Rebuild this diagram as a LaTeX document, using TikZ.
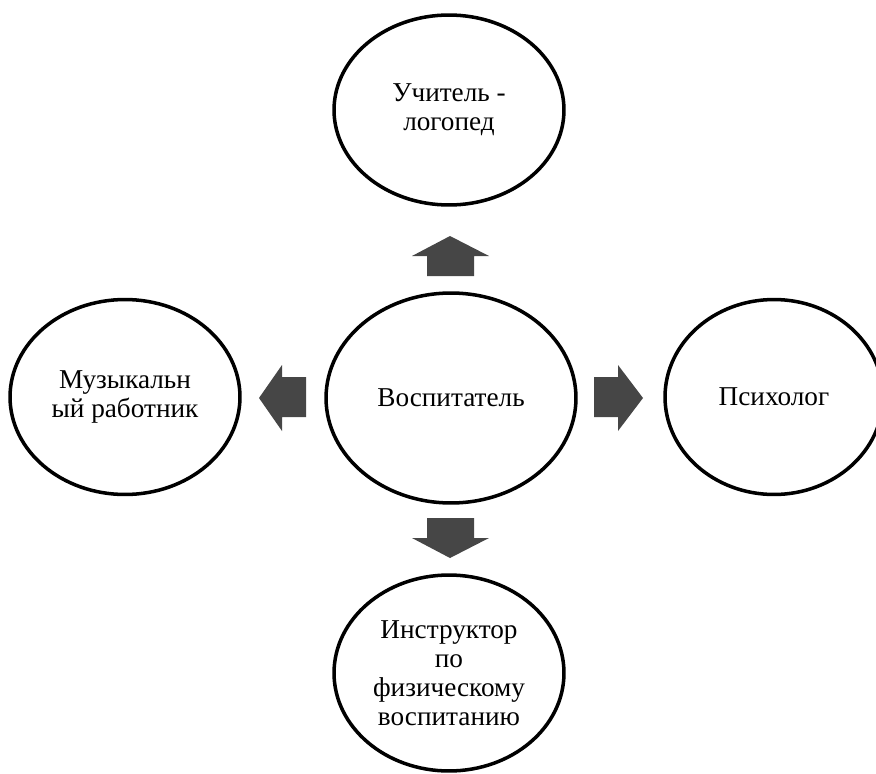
\documentclass[tikz,border=0pt]{standalone}
\usepackage{fontspec}
\setmainfont{Liberation Serif}
\usetikzlibrary{shapes.geometric}
\definecolor{arrowgray}{HTML}{464646}

\tikzset{
  role/.style={ellipse, draw=black, line width=2pt, inner sep=0pt,
    minimum width=4.6cm, minimum height=3.9cm, align=center,
    font=\fontsize{15.5}{16.4}\selectfont},
  blockarrow/.style={fill=arrowgray}
}

\begin{document}
\begin{tikzpicture}[x=0.02cm,y=-0.02cm]
        \useasboundingbox (0,0) rectangle (876,774);
        \node[role, minimum width=5.0cm, minimum height=4.2cm] (teacher) at (451,398) {Воспитатель};
        \node[role, minimum height=3.8cm] (logoped) at (449,110) {Учитель -\\логопед};
        \node[role] (music) at (125,397) {Музыкальн\\ый работник};
        \node[role, minimum width=4.36cm] (psych) at (774,397) {Психолог};
        \node[role, minimum height=3.92cm] (sport) at (449,673) {Инструктор\\по\\физическому\\воспитанию};
        % block arrows
        \fill[blockarrow] (427,276) -- (427,256) -- (412,256) -- (450,236) -- (489,256) -- (474,256) -- (474,276) -- cycle;
        \fill[blockarrow] (427,518) -- (427,538) -- (412,538) -- (450,558) -- (489,538) -- (474,538) -- (474,518) -- cycle;
        \fill[blockarrow] (306,377) -- (282,377) -- (282,365) -- (259,398) -- (282,431) -- (282,417) -- (306,417) -- cycle;
        \fill[blockarrow] (594,377) -- (618,377) -- (618,365) -- (643,398) -- (618,431) -- (618,417) -- (594,417) -- cycle;
\end{tikzpicture}
\end{document}
